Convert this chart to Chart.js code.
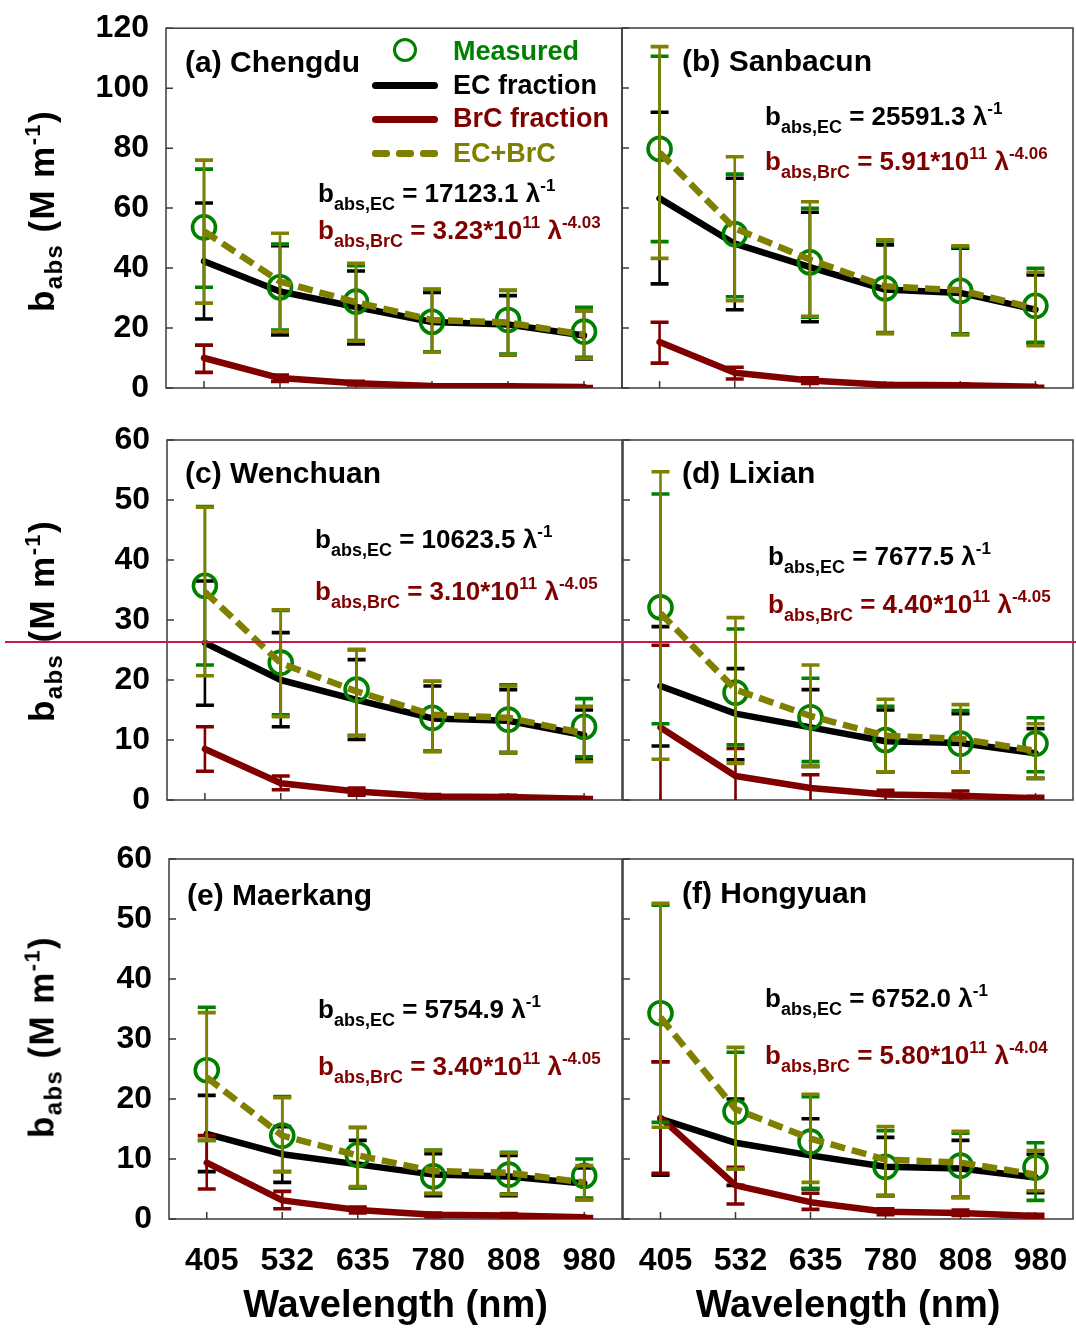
<!DOCTYPE html>
<html><head><meta charset="utf-8">
<script src="https://cdn.jsdelivr.net/npm/chart.js@4.4.1/dist/chart.umd.min.js"></script>
<style>
html,body{margin:0;padding:0;background:#fff;}
body{width:1076px;height:1329px;position:relative;overflow:hidden;font-family:"Liberation Sans",Arial,sans-serif;}
canvas{position:absolute;left:0;top:0;}
.t{position:absolute;font-weight:bold;white-space:nowrap;line-height:1;z-index:5;}
.t sub,.t sup{line-height:0;position:relative;vertical-align:baseline;}
.eq{font-size:26px;}
.eq sub{font-size:18px;top:8px;}
.eq sup{font-size:17px;top:-11px;}
.lab{font-size:30px;color:#000;}
.yt{font-size:35px;letter-spacing:1.4px;transform:translate(-50%,-50%) rotate(-90deg);color:#000;}
.yt sub{font-size:24px;top:8px;}
.yt sup{font-size:22px;top:-14px;}
.leg{font-size:27px;}
.ln{position:absolute;height:6.5px;border-radius:3.5px;z-index:5;}
#redline{position:absolute;left:5px;right:0;top:640.5px;height:2.8px;background:#c41a47;z-index:10;}
</style></head><body>
<script>
// ---------------- DATA ----------------
const wavelengths = ['405','532','635','780','808','980'];
const yTicksTop = [0,20,40,60,80,100,120];
const yTicksLow = [0,10,20,30,40,50,60];

// (a) Chengdu
const chengduMeas   = [53.6, 33.6, 28.8, 22.1, 22.7, 18.8];
const chengduMeasLo = [33.6, 19.3, 15.8, 12.0, 11.3, 10.2];
const chengduMeasHi = [73.0, 48.0, 40.8, 32.8, 32.5, 26.9];
const chengduEC     = [42.3, 32.2, 27.0, 22.0, 21.2, 17.5];
const chengduECLo   = [23.0, 17.7, 14.7, 11.9, 11.0, 9.7];
const chengduECHi   = [61.7, 47.5, 39.0, 31.9, 30.8, 25.8];
const chengduBrC    = [10.0, 3.3, 1.6, 0.7, 0.6, 0.3];
const chengduBrCLo  = [5.2, 2.2, 1.0, 0.4, 0.3, 0.1];
const chengduBrCHi  = [14.3, 4.3, 2.2, 1.0, 0.9, 0.5];
const chengduSum    = [52.3, 35.5, 28.6, 22.7, 21.8, 17.8];
const chengduSumLo  = [28.3, 18.9, 15.6, 11.9, 11.0, 9.9];
const chengduSumHi  = [76.0, 51.6, 41.6, 33.0, 32.7, 25.8];

// (b) Sanbacun
const sanbacunMeas   = [79.7, 51.3, 41.9, 33.2, 32.4, 27.4];
const sanbacunMeasLo = [48.8, 30.4, 23.6, 18.5, 18.0, 15.2];
const sanbacunMeasHi = [110.6, 71.3, 59.9, 49.0, 47.0, 39.9];
const sanbacunEC     = [63.2, 48.1, 40.3, 32.8, 31.7, 26.1];
const sanbacunECLo   = [34.7, 26.1, 22.1, 18.2, 18.0, 14.9];
const sanbacunECHi   = [91.9, 69.9, 58.6, 47.7, 46.6, 37.7];
const sanbacunBrC    = [15.3, 5.1, 2.5, 1.1, 0.9, 0.4];
const sanbacunBrCLo  = [8.3, 3.0, 1.5, 0.6, 0.5, 0.2];
const sanbacunBrCHi  = [21.9, 6.9, 3.4, 1.5, 1.3, 0.6];
const sanbacunSum    = [78.5, 53.2, 42.8, 33.9, 32.6, 26.5];
const sanbacunSumLo  = [43.2, 29.1, 23.9, 18.2, 17.7, 14.1];
const sanbacunSumHi  = [113.8, 77.1, 62.1, 49.4, 47.4, 38.6];

// (c) Wenchuan
const wenchuanMeas   = [35.7, 22.9, 18.4, 13.7, 13.4, 12.2];
const wenchuanMeasLo = [22.5, 14.2, 10.8, 8.2, 7.9, 7.2];
const wenchuanMeasHi = [48.9, 31.6, 25.0, 19.8, 19.2, 16.9];
const wenchuanEC     = [26.2, 20.0, 16.7, 13.6, 13.2, 10.8];
const wenchuanECLo   = [15.8, 12.2, 10.1, 8.1, 7.9, 6.7];
const wenchuanECHi   = [36.5, 27.9, 23.4, 19.0, 18.4, 15.0];
const wenchuanBrC    = [8.5, 2.8, 1.4, 0.6, 0.5, 0.2];
const wenchuanBrCLo  = [4.8, 1.7, 0.8, 0.3, 0.3, 0.1];
const wenchuanBrCHi  = [12.2, 4.0, 2.0, 0.9, 0.8, 0.4];
const wenchuanSum    = [34.7, 22.8, 18.1, 14.2, 13.7, 11.1];
const wenchuanSumLo  = [20.7, 13.9, 10.7, 8.1, 7.9, 6.4];
const wenchuanSumHi  = [48.8, 31.7, 25.1, 19.8, 19.0, 15.6];

// (d) Lixian
const lixianMeas   = [32.1, 17.9, 13.8, 10.0, 9.4, 9.4];
const lixianMeasLo = [12.7, 9.2, 6.4, 4.7, 4.7, 4.7];
const lixianMeasHi = [51.0, 28.5, 20.3, 15.6, 14.9, 13.7];
const lixianEC     = [19.0, 14.4, 12.1, 9.8, 9.5, 7.8];
const lixianECLo   = [9.0, 6.7, 5.6, 4.7, 4.7, 3.6];
const lixianECHi   = [28.9, 21.9, 18.4, 15.0, 14.4, 11.9];
const lixianBrC    = [12.1, 4.0, 2.0, 0.9, 0.7, 0.3];
const lixianBrCLo  = [-1.0, -1.0, -1.0, -0.2, -0.2, 0.0];
const lixianBrCHi  = [25.8, 8.6, 4.2, 1.6, 1.5, 0.6];
const lixianSum    = [31.1, 18.4, 14.0, 10.7, 10.2, 8.2];
const lixianSumLo  = [6.8, 6.1, 5.6, 4.7, 4.7, 3.6];
const lixianSumHi  = [54.7, 30.4, 22.5, 16.8, 15.9, 12.7];

// (e) Maerkang
const maerkangMeas   = [24.8, 13.9, 10.7, 7.1, 7.4, 7.2];
const maerkangMeasLo = [13.1, 7.9, 5.2, 4.3, 4.2, 3.5];
const maerkangMeasHi = [35.3, 20.4, 15.3, 11.5, 11.1, 10.0];
const maerkangEC     = [14.2, 10.8, 9.1, 7.4, 7.1, 5.9];
const maerkangECLo   = [7.9, 6.1, 5.2, 3.9, 3.9, 3.2];
const maerkangECHi   = [20.6, 15.4, 13.1, 10.9, 10.6, 8.5];
const maerkangBrC    = [9.4, 3.1, 1.5, 0.7, 0.6, 0.3];
const maerkangBrCLo  = [5.0, 1.7, 1.0, 0.4, 0.3, 0.1];
const maerkangBrCHi  = [13.9, 4.6, 2.0, 1.0, 0.9, 0.4];
const maerkangSum    = [23.6, 13.9, 10.6, 8.0, 7.7, 6.1];
const maerkangSumLo  = [13.1, 7.9, 5.4, 4.2, 4.1, 3.2];
const maerkangSumHi  = [34.4, 20.2, 15.2, 11.4, 11.0, 8.9];

// (f) Hongyuan
const hongyuanMeas   = [34.3, 17.9, 12.9, 8.7, 8.9, 8.6];
const hongyuanMeasLo = [16.1, 8.3, 5.1, 3.9, 3.6, 3.1];
const hongyuanMeasHi = [52.3, 27.8, 20.4, 14.7, 14.3, 12.7];
const hongyuanEC     = [16.7, 12.7, 10.6, 8.7, 8.4, 6.9];
const hongyuanECLo   = [7.3, 5.6, 5.0, 3.9, 3.6, 4.4];
const hongyuanECHi   = [26.2, 20.0, 16.7, 13.6, 13.1, 10.8];
const hongyuanBrC    = [16.9, 5.6, 2.8, 1.2, 1.0, 0.5];
const hongyuanBrCLo  = [7.6, 2.5, 1.6, 0.7, 0.6, 0.2];
const hongyuanBrCHi  = [26.2, 8.6, 4.3, 1.7, 1.5, 0.8];
const hongyuanSum    = [33.6, 18.3, 13.4, 9.9, 9.4, 7.4];
const hongyuanSumLo  = [15.3, 8.3, 6.1, 3.9, 3.6, 4.7];
const hongyuanSumHi  = [52.6, 28.6, 20.8, 15.4, 14.6, 11.4];

// ---------------- LAYOUT ----------------
const W = 1076, H = 1329;
const FONT = '"Liberation Sans", Arial, sans-serif';
const C_EC = '#000000', C_BRC = '#800000', C_MEAS = '#008000', C_SUM = '#808000';

const panels = [
  {area:{left:166,right:622,top:28,bottom:388}, yMax:120, yTicks:yTicksTop, showY:true, showX:false,
   meas:[chengduMeas,chengduMeasLo,chengduMeasHi], ec:[chengduEC,chengduECLo,chengduECHi],
   brc:[chengduBrC,chengduBrCLo,chengduBrCHi], sum:[chengduSum,chengduSumLo,chengduSumHi]},
  {area:{left:622,right:1073,top:28,bottom:388}, yMax:120, yTicks:yTicksTop, showY:false, showX:false,
   meas:[sanbacunMeas,sanbacunMeasLo,sanbacunMeasHi], ec:[sanbacunEC,sanbacunECLo,sanbacunECHi],
   brc:[sanbacunBrC,sanbacunBrCLo,sanbacunBrCHi], sum:[sanbacunSum,sanbacunSumLo,sanbacunSumHi]},
  {area:{left:167,right:622,top:440,bottom:800}, yMax:60, yTicks:yTicksLow, showY:true, showX:false,
   meas:[wenchuanMeas,wenchuanMeasLo,wenchuanMeasHi], ec:[wenchuanEC,wenchuanECLo,wenchuanECHi],
   brc:[wenchuanBrC,wenchuanBrCLo,wenchuanBrCHi], sum:[wenchuanSum,wenchuanSumLo,wenchuanSumHi]},
  {area:{left:623,right:1073,top:440,bottom:800}, yMax:60, yTicks:yTicksLow, showY:false, showX:false,
   meas:[lixianMeas,lixianMeasLo,lixianMeasHi], ec:[lixianEC,lixianECLo,lixianECHi],
   brc:[lixianBrC,lixianBrCLo,lixianBrCHi], sum:[lixianSum,lixianSumLo,lixianSumHi]},
  {area:{left:169,right:622,top:859,bottom:1219}, yMax:60, yTicks:yTicksLow, showY:true, showX:true,
   meas:[maerkangMeas,maerkangMeasLo,maerkangMeasHi], ec:[maerkangEC,maerkangECLo,maerkangECHi],
   brc:[maerkangBrC,maerkangBrCLo,maerkangBrCHi], sum:[maerkangSum,maerkangSumLo,maerkangSumHi]},
  {area:{left:623,right:1073,top:859,bottom:1219}, yMax:60, yTicks:yTicksLow, showY:false, showX:true,
   meas:[hongyuanMeas,hongyuanMeasLo,hongyuanMeasHi], ec:[hongyuanEC,hongyuanECLo,hongyuanECHi],
   brc:[hongyuanBrC,hongyuanBrCLo,hongyuanBrCHi], sum:[hongyuanSum,hongyuanSumLo,hongyuanSumHi]}
];

const errorBarPlugin = {
  id: 'errbars',
  beforeDatasetDraw(chart, args) {
    const ds = chart.data.datasets[args.index];
    if (!ds.errLow) return;
    const ys = chart.scales.y, a = chart.chartArea, ctx = chart.ctx;
    ctx.save();
    ctx.beginPath(); ctx.rect(a.left - 20, a.top, a.right - a.left + 40, a.bottom - a.top); ctx.clip();
    ctx.strokeStyle = ds.errColor;
    args.meta.data.forEach((pt, i) => {
      const x = pt.x;
      const yl = ys.getPixelForValue(ds.errLow[i]);
      const yh = ys.getPixelForValue(ds.errHigh[i]);
      ctx.lineWidth = 2.6; ctx.lineCap = 'butt';
      ctx.beginPath(); ctx.moveTo(x, yl); ctx.lineTo(x, yh); ctx.stroke();
      ctx.lineWidth = 3.6;
      ctx.beginPath();
      ctx.moveTo(x - 9, yl); ctx.lineTo(x + 9, yl);
      ctx.moveTo(x - 9, yh); ctx.lineTo(x + 9, yh);
      ctx.stroke();
    });
    ctx.restore();
  }
};

const framePlugin = {
  id: 'frame',
  beforeDatasetsDraw(chart) {
    const {ctx, chartArea: a} = chart;
    const xs = chart.scales.x, ys = chart.scales.y;
    ctx.save();
    ctx.strokeStyle = '#3a3a3a'; ctx.lineWidth = 1.5;
    ctx.strokeRect(a.left, a.top, a.right - a.left, a.bottom - a.top);
    ctx.beginPath();
    ys.ticks.forEach(t => { const py = ys.getPixelForValue(t.value); ctx.moveTo(a.left, py); ctx.lineTo(a.left + 7, py); });
    wavelengths.forEach((w, i) => { const px = xs.getPixelForValue(i); ctx.moveTo(px, a.bottom); ctx.lineTo(px, a.bottom - 7); });
    ctx.stroke();
    ctx.restore();
  }
};

function makeChart(p) {
  const cv = document.createElement('canvas');
  cv.width = W; cv.height = H;
  cv.style.width = W + 'px'; cv.style.height = H + 'px';
  document.body.appendChild(cv);
  const xH = p.showX ? 110 : 0;
  const yW = p.showY ? p.area.left : 0;
  const lineDs = (label, arr, color, order, extra) => Object.assign({
    label, data: arr[0], errLow: arr[1], errHigh: arr[2], errColor: color,
    borderColor: color, backgroundColor: color, borderWidth: 6.5, pointRadius: 0, pointHoverRadius: 0,
    borderCapStyle: 'round', borderJoinStyle: 'round', tension: 0, fill: false, order
  }, extra || {});
  new Chart(cv, {
    type: 'line',
    data: {
      labels: wavelengths,
      datasets: [
        lineDs('EC fraction', p.ec, C_EC, 4),
        lineDs('BrC fraction', p.brc, C_BRC, 3),
        lineDs('Measured', p.meas, C_MEAS, 2, {showLine: false, pointRadius: 11.5, pointHoverRadius: 11.5,
          pointStyle: 'circle', pointBorderWidth: 3.6, pointBorderColor: C_MEAS, pointBackgroundColor: 'rgba(0,0,0,0)'}),
        lineDs('EC+BrC', p.sum, C_SUM, 1, {borderDash: [15, 7], borderCapStyle: 'butt'})
      ]
    },
    options: {
      responsive: false, animation: false, devicePixelRatio: 1,
      events: [],
      layout: {autoPadding: false, padding: {left: p.showY ? 0 : p.area.left, right: W - p.area.right, top: p.area.top, bottom: H - p.area.bottom - xH}},
      plugins: {legend: {display: false}, tooltip: {enabled: false}},
      scales: {
        x: {
          type: 'category', offset: true,
          grid: {display: false}, border: {display: false},
          ticks: {display: p.showX, color: '#000', font: {family: FONT, size: 32, weight: 'bold'}, padding: 15, labelOffset: 5, maxRotation: 0, autoSkip: false},
          title: {display: p.showX, text: 'Wavelength (nm)', color: '#000', font: {family: FONT, size: 38, weight: 'bold'}, padding: {top: 0, bottom: 0}},
          afterFit: s => { s.height = xH; s.paddingLeft = 0; s.paddingRight = 0; }
        },
        y: {
          min: 0, max: p.yMax,
          grid: {display: false}, border: {display: false},
          ticks: {display: p.showY, color: '#000', font: {family: FONT, size: 32, weight: 'bold'}, padding: 9},
          afterBuildTicks: s => { s.ticks = p.yTicks.map(v => ({value: v})); },
          afterFit: s => { s.width = yW; }
        }
      }
    },
    plugins: [errorBarPlugin, framePlugin]
  });
}
panels.forEach(makeChart);
</script>

<!-- y-axis titles -->
<div class="t yt" style="left:41px;top:211px;">b<sub>abs</sub> (M m<sup>-1</sup>)</div>
<div class="t yt" style="left:41px;top:621px;">b<sub>abs</sub> (M m<sup>-1</sup>)</div>
<div class="t yt" style="left:41px;top:1037px;">b<sub>abs</sub> (M m<sup>-1</sup>)</div>

<!-- panel labels -->
<div class="t lab" style="left:185px;top:47px;">(a) Chengdu</div>
<div class="t lab" style="left:682px;top:46px;">(b) Sanbacun</div>
<div class="t lab" style="left:185px;top:458px;">(c) Wenchuan</div>
<div class="t lab" style="left:682px;top:458px;">(d) Lixian</div>
<div class="t lab" style="left:187px;top:880px;">(e) Maerkang</div>
<div class="t lab" style="left:682px;top:878px;">(f) Hongyuan</div>

<!-- legend in panel (a) -->
<div style="position:absolute;left:393px;top:38px;width:24px;height:24px;box-sizing:border-box;border:3.6px solid #008000;border-radius:50%;z-index:5;"></div>
<div class="ln" style="left:372px;top:82px;width:66px;background:#000;"></div>
<div class="ln" style="left:372px;top:116px;width:66px;background:#800000;"></div>
<div class="ln" style="left:372px;top:150px;width:18px;background:#808000;border-radius:3px;"></div>
<div class="ln" style="left:396px;top:150px;width:18px;background:#808000;border-radius:3px;"></div>
<div class="ln" style="left:420px;top:150px;width:18px;background:#808000;border-radius:3px;"></div>
<div class="t leg" style="left:453px;top:38px;color:#008000;">Measured</div>
<div class="t leg" style="left:453px;top:72px;color:#000;">EC fraction</div>
<div class="t leg" style="left:453px;top:105px;color:#800000;">BrC fraction</div>
<div class="t leg" style="left:453px;top:140px;color:#808000;">EC+BrC</div>

<!-- equations -->
<div class="t eq" style="left:318px;top:180px;color:#000;">b<sub>abs,EC</sub> = 17123.1 λ<sup>-1</sup></div>
<div class="t eq" style="left:318px;top:217px;color:#800000;">b<sub>abs,BrC</sub> = 3.23*10<sup>11</sup> λ<sup>-4.03</sup></div>

<div class="t eq" style="left:765px;top:103px;color:#000;">b<sub>abs,EC</sub> = 25591.3 λ<sup>-1</sup></div>
<div class="t eq" style="left:765px;top:148px;color:#800000;">b<sub>abs,BrC</sub> = 5.91*10<sup>11</sup> λ<sup>-4.06</sup></div>

<div class="t eq" style="left:315px;top:526px;color:#000;">b<sub>abs,EC</sub> = 10623.5 λ<sup>-1</sup></div>
<div class="t eq" style="left:315px;top:578px;color:#800000;">b<sub>abs,BrC</sub> = 3.10*10<sup>11</sup> λ<sup>-4.05</sup></div>

<div class="t eq" style="left:768px;top:543px;color:#000;">b<sub>abs,EC</sub> = 7677.5 λ<sup>-1</sup></div>
<div class="t eq" style="left:768px;top:591px;color:#800000;">b<sub>abs,BrC</sub> = 4.40*10<sup>11</sup> λ<sup>-4.05</sup></div>

<div class="t eq" style="left:318px;top:996px;color:#000;">b<sub>abs,EC</sub> = 5754.9 λ<sup>-1</sup></div>
<div class="t eq" style="left:318px;top:1053px;color:#800000;">b<sub>abs,BrC</sub> = 3.40*10<sup>11</sup> λ<sup>-4.05</sup></div>

<div class="t eq" style="left:765px;top:985px;color:#000;">b<sub>abs,EC</sub> = 6752.0 λ<sup>-1</sup></div>
<div class="t eq" style="left:765px;top:1042px;color:#800000;">b<sub>abs,BrC</sub> = 5.80*10<sup>11</sup> λ<sup>-4.04</sup></div>

<div id="redline"></div>
</body></html>
